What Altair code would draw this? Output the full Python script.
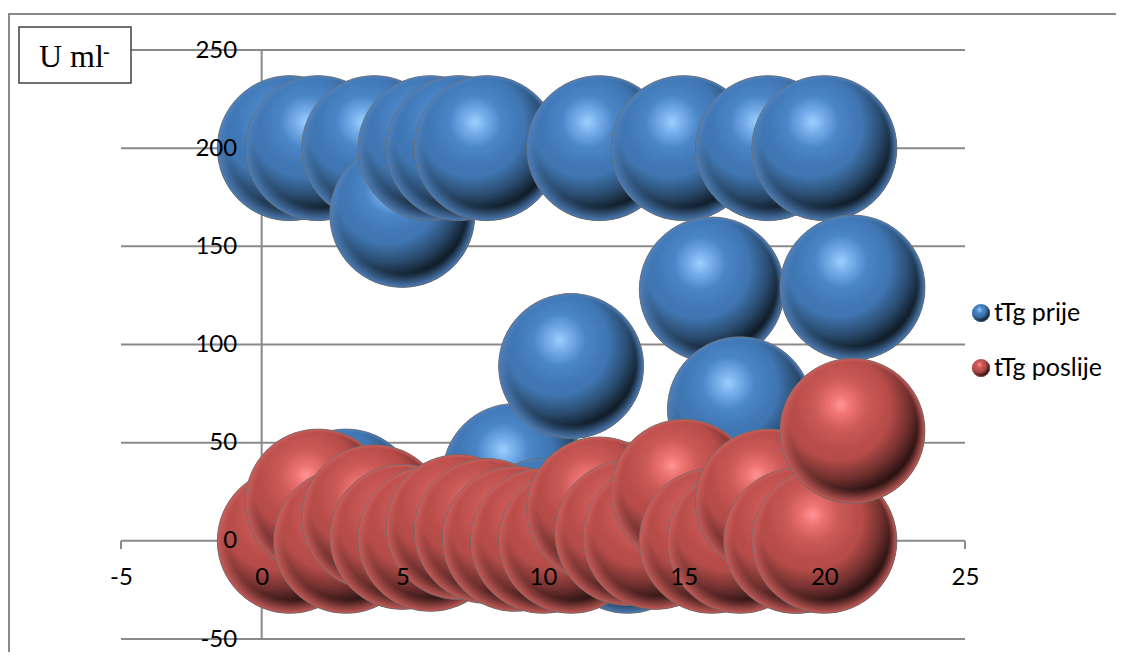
import altair as alt

x_values = list(range(1, 22))
blue_values = [200, 200, 20, 200, 166, 200, 200, 200, 33, 5, 89, 200, 0, 5, 200, 128, 67, 200, 0, 200, 129]
red_values = [0, 20, 0, 12, 2, 1, 7, 5, 1, 0, 0, 16, 4, 2, 25, 0, 0, 20, 0, 0, 56]
x_ticks = [-5, 0, 5, 10, 15, 20, 25]
y_ticks = [-50, 0, 50, 100, 150, 200, 250]
series_names = ["tTg prije", "tTg poslije"]

W, H = 844, 589
PAD = dict(left=113, top=42, right=151, bottom=13)
LINE = "#8a8a8a"
FONT = "Lato"
BUBBLE = 21025
x_scale = alt.Scale(domain=[-5, 25], nice=False, zero=False)
y_scale = alt.Scale(domain=[-50, 250], nice=False, zero=False)
x_axis = alt.Axis(
    values=x_ticks, grid=False, domain=False, ticks=False, offset=-98, labelPadding=24, zindex=1,
    labelExpr="'' + datum.value",
    labelFont=FONT, labelFontSize=24, labelColor="#000000", labelFlush=False, labelOverlap=False)
y_axis = alt.Axis(
    values=y_ticks, grid=False, domain=False, ticks=False, offset=-140.7,
    labelExpr="'' + datum.value",
    labelPadding=25, zindex=1, labelFont=FONT, labelFontSize=24, labelColor="#000000",
    labelFlush=False, labelOverlap=False)
x_enc = alt.X("x:Q", scale=x_scale, axis=x_axis, title=None)
y_enc = alt.Y("y:Q", scale=y_scale, axis=y_axis, title=None)


def stops(*pairs):
    return [{"color": c, "offset": o} for o, c in pairs]


def radial(fx, fy, fr, cx, cy, r, st):
    return {"gradient": "radial", "x1": fx, "y1": fy, "r1": fr, "x2": cx, "y2": cy, "r2": r, "stops": st}


blue_fill = radial(0.42, 0.32, 0, 0.42, 0.32, 0.72, stops(
    (0, "#9ad0ff"), (0.1, "#78b0ec"), (0.25, "#4a86c8"), (0.45, "#3f76b4"), (1, "#42729f")))
red_fill = radial(0.42, 0.32, 0, 0.42, 0.32, 0.72, stops(
    (0, "#ff9494"), (0.1, "#ee7472"), (0.25, "#cc5a57"), (0.45, "#b84c49"), (1, "#a64a47")))
shade = radial(0.4, 0.34, 0, 0.4, 0.34, 0.72, stops(
    (0, "rgba(0,0,0,0)"), (0.5, "rgba(0,0,0,0)"), (0.68, "rgba(0,0,0,0.35)"),
    (0.82, "rgba(0,0,0,0.72)"), (0.92, "rgba(0,0,0,0.9)"), (1, "rgba(0,0,0,0.95)")))


def rim(rgb):
    return radial(0.55, 0.2, 0, 0.5, 0.5, 0.5, stops(
        (0, f"rgba({rgb},0)"), (0.88, f"rgba({rgb},0)"), (0.95, f"rgba({rgb},0.6)"), (1, f"rgba({rgb},0.95)")))


blue_rim = rim("80,130,190")
red_rim = rim("205,95,92")


def point_layers(xs, ys, fill, edge):
    out = []
    for xv, yv in zip(xs, ys):
        data = alt.Data(values=[{"x": xv, "y": yv}])
        enc = dict(x=x_enc, y=y_enc)
        out.append(alt.Chart(data).mark_circle(size=BUBBLE, opacity=1, color=fill).encode(**enc))
        out.append(alt.Chart(data).mark_circle(size=BUBBLE, opacity=1, color=shade).encode(**enc))
        out.append(alt.Chart(data).mark_circle(size=BUBBLE, opacity=1, color=edge, stroke="#6f6f6f", strokeWidth=0.8).encode(**enc))
    return out


grid = alt.Chart(alt.Data(values=[{"x": -5, "y": v, "b": 25} for v in y_ticks])).mark_rule(color=LINE, strokeWidth=2).encode(
    x=x_enc, y=y_enc, x2="b:Q")
y_line = alt.Chart(alt.Data(values=[{"x": 0, "y": -50, "b": 250}])).mark_rule(color=LINE, strokeWidth=2).encode(
    x=x_enc, y=y_enc, y2="b:Q")
x_tick_marks = alt.Chart(alt.Data(values=[{"x": v, "y": 0} for v in x_ticks])).mark_rule(color=LINE, strokeWidth=2).encode(
    x=x_enc, y=y_enc, y2=alt.value(499))


def fixed_rule(x1, x2, y1, y2):
    return alt.Chart(alt.Data(values=[{}])).mark_rule(color=LINE, strokeWidth=2).encode(
        x=alt.value(x1), x2=alt.value(x2), y=alt.value(y1), y2=alt.value(y2))


frame_top = fixed_rule(-113, 995, -36, -36)
frame_left = fixed_rule(-112, -112, -36, 602)

box = alt.Chart(alt.Data(values=[{}])).mark_rect(fill="#ffffff", stroke="#404040", strokeWidth=1.5).encode(
    x=alt.value(-102), x2=alt.value(10), y=alt.value(-23), y2=alt.value(33))
unit = alt.Chart(alt.Data(values=[{"t": "U ml"}])).mark_text(
    font="Liberation Serif", fontSize=32, color="#000000", align="left", baseline="alphabetic").encode(
    x=alt.value(-82), y=alt.value(17), text="t:N")
unit_sup = alt.Chart(alt.Data(values=[{"t": "-"}])).mark_text(
    font="Liberation Serif", fontSize=20, color="#000000", align="left", baseline="alphabetic").encode(
    x=alt.value(-18), y=alt.value(8), text="t:N")


def legend_entry(name, fill, edge, y):
    data = alt.Data(values=[{"t": name}])
    dot = dict(x=alt.value(860), y=alt.value(y))
    return [
        alt.Chart(data).mark_circle(size=324, opacity=1, color=fill).encode(**dot),
        alt.Chart(data).mark_circle(size=324, opacity=1, color=shade).encode(**dot),
        alt.Chart(data).mark_circle(size=324, opacity=1, color=edge).encode(**dot),
        alt.Chart(data).mark_text(font=FONT, fontSize=25, color="#000000", align="left", baseline="middle").encode(
            x=alt.value(873), y=alt.value(y), text="t:N"),
    ]


layers = [grid, y_line, x_tick_marks, frame_top, frame_left]
layers += point_layers(x_values, blue_values, blue_fill, blue_rim)
layers += point_layers(x_values, red_values, red_fill, red_rim)
layers += [box, unit, unit_sup]
layers += legend_entry(series_names[0], blue_fill, blue_rim, 263)
layers += legend_entry(series_names[1], red_fill, red_rim, 318)

chart = alt.layer(*layers).properties(
    width=W, height=H, padding=PAD, background="#ffffff",
    autosize=alt.AutoSizeParams(type="none"),
).configure_view(stroke=None)

chart.save("out.html", embed_options={"renderer": "svg", "actions": False})
